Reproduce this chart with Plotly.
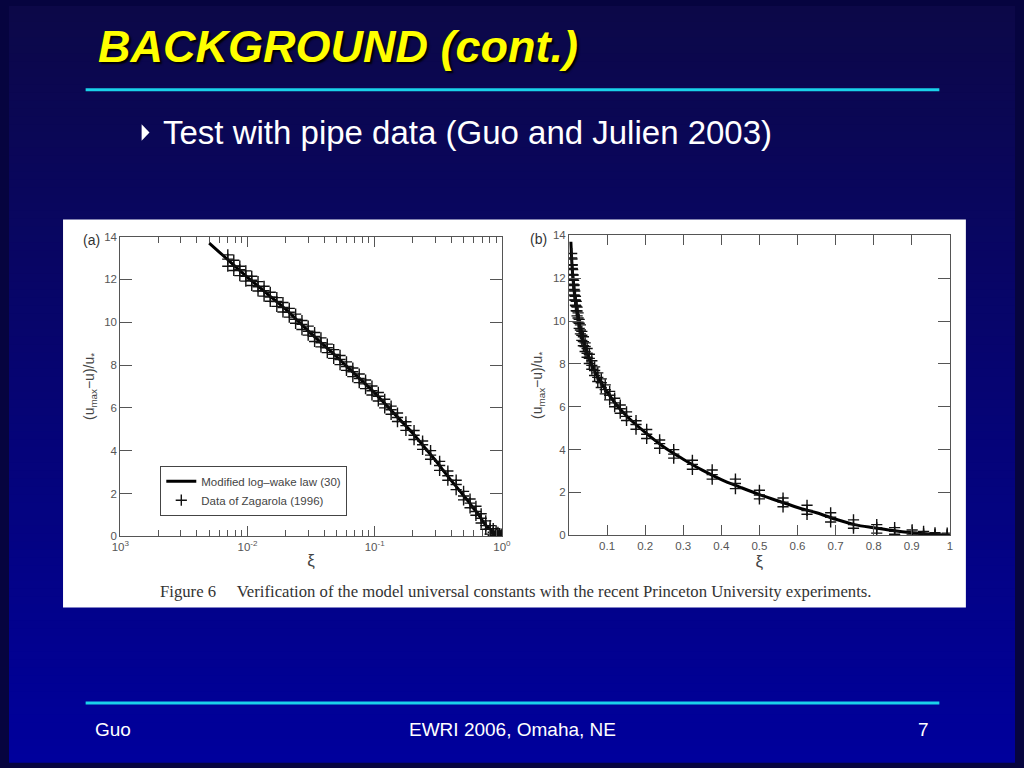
import plotly.graph_objects as go

# ---------------- data ----------------
curve_xi = [0.005, 0.006, 0.007, 0.008, 0.01, 0.0125, 0.015, 0.02, 0.025, 0.03, 0.04, 0.05,
            0.06, 0.07, 0.08, 0.1, 0.12, 0.15, 0.2, 0.25, 0.3, 0.35, 0.4, 0.45, 0.5, 0.55,
            0.6, 0.65, 0.7, 0.75, 0.8, 0.85, 0.9, 0.95, 1.0]
curve_y = [13.7, 13.28, 12.92, 12.61, 12.1, 11.62, 11.22, 10.6, 10.05, 9.6, 8.92, 8.4,
           7.95, 7.58, 7.25, 6.7, 6.2, 5.59, 4.8, 4.11, 3.55, 3.04, 2.6, 2.24, 1.9, 1.6,
           1.3, 1.05, 0.75, 0.5, 0.35, 0.22, 0.12, 0.05, 0.0]

data_xi = [0.0070, 0.0078, 0.0087, 0.0097, 0.0108, 0.0121, 0.0135, 0.0151, 0.0170, 0.0190,
           0.0213, 0.0239, 0.0268, 0.0300, 0.0337, 0.0378, 0.0424, 0.0476, 0.0534, 0.0600,
           0.0673, 0.0756, 0.0848, 0.0952, 0.1068, 0.1199, 0.1346, 0.1511, 0.1760, 0.2040,
           0.2380, 0.2750, 0.3240, 0.3760, 0.4370, 0.5000, 0.5620, 0.6250, 0.6870, 0.7470,
           0.8080, 0.8550, 0.9010, 0.9310, 0.9610, 0.9930]
data_run_a = [13.15, 12.90, 12.62, 12.40, 12.15, 11.90, 11.68, 11.40, 11.15, 10.92,
              10.65, 10.38, 10.08, 9.82, 9.52, 9.27, 8.98, 8.72, 8.45, 8.15,
              7.86, 7.58, 7.30, 7.02, 6.72, 6.40, 6.08, 5.76, 5.35, 4.94,
              4.45, 4.00, 3.50, 3.05, 2.62, 2.10, 1.74, 1.40, 1.05, 0.72,
              0.50, 0.36, 0.25, 0.18, 0.12, 0.10]
data_run_b = [12.95, 12.63, 12.45, 12.15, 11.96, 11.66, 11.47, 11.18, 10.97, 10.69,
              10.47, 10.14, 9.90, 9.58, 9.34, 9.04, 8.81, 8.50, 8.26, 7.93,
              7.69, 7.37, 7.12, 6.80, 6.54, 6.18, 5.91, 5.55, 5.17, 4.72,
              4.28, 3.79, 3.31, 2.83, 2.42, 1.88, 1.55, 1.16, 0.84, 0.50,
              0.35, 0.19, 0.13, 0.07, 0.05, 0.02]
data_run_c = [12.62, 12.42, 12.18, 11.92, 11.72, 11.46, 11.22, 10.98, 10.74, 10.48,
              10.24, 9.95, 9.66, 9.40, 9.10, 8.85, 8.58, 8.31, 8.02, 7.75,
              7.46, 7.18, 6.90, 6.60, 6.32, 6.00, 5.70, 5.36, 4.95, 4.52,
              4.06, 3.60, 3.08, 2.62, 2.18, 1.70, 1.33, 0.98, 0.62, 0.33,
              0.10, 0.05, 0.02, 0.00, 0.00, 0.00]

log_tickvals = [0.001, 0.01, 0.1, 1]
log_ticktext = ["10<sup>3</sup>", "10<sup>-2</sup>", "10<sup>-1</sup>", "10<sup>0</sup>"]
log_minor = [0.002, 0.003, 0.004, 0.005, 0.006, 0.007, 0.008, 0.009,
             0.02, 0.03, 0.04, 0.05, 0.06, 0.07, 0.08, 0.09,
             0.2, 0.3, 0.4, 0.5, 0.6, 0.7, 0.8, 0.9]
lin_tickvals = [0.1, 0.2, 0.3, 0.4, 0.5, 0.6, 0.7, 0.8, 0.9, 1.0]
lin_ticktext = ["0.1", "0.2", "0.3", "0.4", "0.5", "0.6", "0.7", "0.8", "0.9", "1"]

legend_line = "Modified log\u2013wake law (30)"
legend_data = "Data of Zagarola (1996)"

# ---------------- figure ----------------
W, H = 1024, 768
def px(x):
    return x / W
def py(y):
    return 1 - y / H

all_x = data_xi * 3
all_y = data_run_a + data_run_b + data_run_c

fig = go.Figure()
for ax, show in (("", True), ("2", False)):
    fig.add_trace(go.Scatter(x=curve_xi, y=curve_y, mode="lines", line_shape="spline",
                             line=dict(color="black", width=3), name=legend_line,
                             showlegend=show, xaxis="x" + ax, yaxis="y" + ax))
    fig.add_trace(go.Scatter(x=all_x, y=all_y, mode="markers", name=legend_data,
                             marker=dict(symbol="cross-thin", size=8,
                                         line=dict(color="#111", width=1.4)),
                             showlegend=show, xaxis="x" + ax, yaxis="y" + ax))

# background gradient + white panel
shapes = []
n = 96
top = (12, 8, 72)
bot = (0, 0, 156)
for i in range(n):
    t = i / (n - 1)
    c = tuple(round(top[k] + (bot[k] - top[k]) * t) for k in range(3))
    shapes.append(dict(type="rect", xref="paper", yref="paper", x0=0, x1=1,
                       y0=1 - (i + 1) / n - 0.001, y1=1 - i / n, layer="below",
                       line=dict(width=0), fillcolor="rgb(%d,%d,%d)" % c))
shapes.append(dict(type="rect", xref="paper", yref="paper", x0=px(55), x1=px(974),
                   y0=py(611), y1=py(217), layer="below", line=dict(width=0),
                   fillcolor="white"))
for yy in (85, 708):
    shapes.append(dict(type="line", xref="paper", yref="paper", x0=px(78), x1=px(947),
                       y0=py(yy), y1=py(yy), line=dict(color="#1ad2ea", width=3)))
# bullet triangle
shapes.append(dict(type="path", xref="paper", yref="paper",
                   path="M %f,%f L %f,%f L %f,%f Z" % (px(135), py(120), px(143), py(128.5),
                                                        px(135), py(137)),
                   fillcolor="white", line=dict(width=0)))

tickfont = dict(family="Liberation Sans, Arial", size=11.5, color="#555")
titlefont = dict(family="Liberation Sans, Arial", size=14, color="#444")
axcommon = dict(showline=True, linecolor="#555", linewidth=1, mirror="ticks",
                ticks="inside", tickcolor="#555", showgrid=False, zeroline=False,
                tickfont=tickfont)
ytitle = "(u<sub>max</sub>\u2212u)/u<sub>*</sub>"
xtitle = dict(text="\u03be", font=dict(family="Liberation Sans, Arial", size=17, color="#444"),
              standoff=2)

fig.update_layout(
    width=W, height=H, margin=dict(l=0, r=0, t=0, b=0),
    paper_bgcolor="#06043f", plot_bgcolor="rgba(0,0,0,0)",
    shapes=shapes,
    xaxis=dict(domain=[px(113.3), px(501.7)], type="log", range=[-3, 0],
               tickmode="array", tickvals=log_tickvals, ticktext=log_ticktext, ticklen=10,
               minor=dict(tickmode="array", tickvals=log_minor, ticks="inside", ticklen=6,
                          tickcolor="#555", showgrid=False),
               title=xtitle, anchor="y", **axcommon),
    yaxis=dict(domain=[py(538.7), py(234.3)], range=[0, 14], dtick=2, ticklen=12,
               title=dict(text=ytitle, font=titlefont, standoff=6),
               anchor="x", **axcommon),
    xaxis2=dict(domain=[px(570), px(957.7)], range=[0, 1], tickmode="array",
                tickvals=lin_tickvals, ticktext=lin_ticktext, ticklen=10,
                title=xtitle, anchor="y2", **axcommon),
    yaxis2=dict(domain=[py(537.7), py(233)], range=[0, 14], dtick=2, ticklen=12,
                title=dict(text=ytitle, font=titlefont, standoff=6),
                anchor="x2", **axcommon),
    legend=dict(x=px(154), y=py(467), xanchor="left", yanchor="top",
                bgcolor="white", bordercolor="#444", borderwidth=1,
                font=dict(family="Liberation Sans, Arial", size=11.5, color="#444"),
                tracegroupgap=0, itemwidth=30),
    showlegend=True,
)

ann = [
    dict(text="<b><i>BACKGROUND (cont.)</i></b>", x=px(89), y=py(41), xanchor="left",
         yanchor="middle",
         font=dict(family="Liberation Sans, Arial", size=45, color="#ffff00",
                   shadow="2px 2px 2px #000000")),
    dict(text="Test with pipe data (Guo and Julien 2003)", x=px(155), y=py(129),
         xanchor="left", yanchor="middle",
         font=dict(family="Liberation Sans, Arial", size=33, color="white")),
    dict(text="Guo", x=px(86), y=py(735), xanchor="left", yanchor="middle",
         font=dict(family="Liberation Sans, Arial", size=19, color="white")),
    dict(text="EWRI 2006, Omaha, NE", x=px(512), y=py(735), xanchor="center", yanchor="middle",
         font=dict(family="Liberation Sans, Arial", size=19, color="white")),
    dict(text="7", x=px(938), y=py(735), xanchor="right", yanchor="middle",
         font=dict(family="Liberation Sans, Arial", size=19, color="white")),
    dict(text="(a)", x=px(73), y=py(238), xanchor="left", yanchor="middle",
         font=dict(family="Liberation Sans, Arial", size=14, color="#333")),
    dict(text="(b)", x=px(528), y=py(237), xanchor="left", yanchor="middle",
         font=dict(family="Liberation Sans, Arial", size=14, color="#333")),
    dict(text="Figure 6\u2003 Verification of the model universal constants with the recent Princeton University experiments.",
         x=px(152), y=py(595), xanchor="left", yanchor="middle",
         font=dict(family="Liberation Serif, Times New Roman, serif", size=16.7, color="#333")),
]
for a in ann:
    a.update(xref="paper", yref="paper", showarrow=False)
fig.update_layout(annotations=ann)

fig.write_html("out.html", config={"displayModeBar": False},
               post_script="document.body.style.margin='0px';document.body.style.overflow='hidden';")
